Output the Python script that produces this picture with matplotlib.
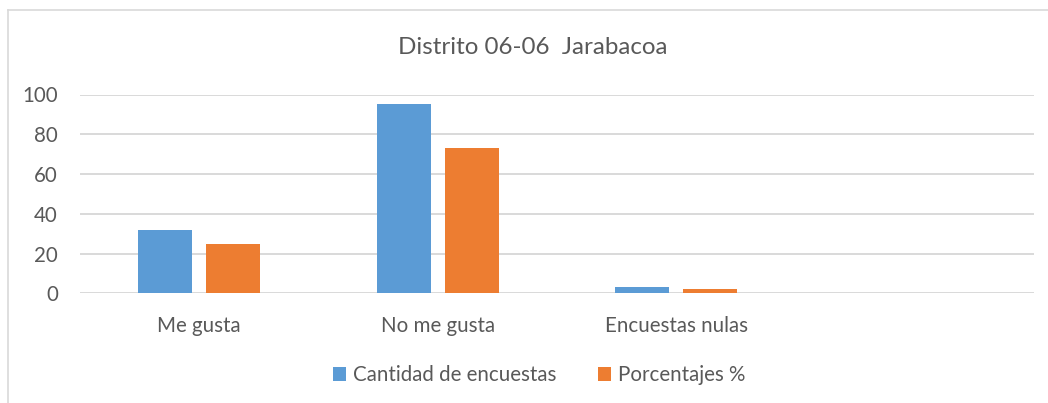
import matplotlib
matplotlib.use("Agg")
import matplotlib.pyplot as plt  # noqa: E402
import numpy as np  # noqa: E402
from matplotlib.lines import Line2D  # noqa: E402

categories = ["Me gusta", "No me gusta", "Encuestas nulas"]
cantidad = [32, 95, 3]
porcentajes = [24.6, 73.1, 2.3]
series_names = ["Cantidad de encuestas", "Porcentajes %"]
yticks = [0, 20, 40, 60, 80, 100]
title = "Distrito 06-06  Jarabacoa"
n_slots = 4  # Excel left an empty fourth category slot

BLUE = "#5B9BD5"
ORANGE = "#ED7D31"
TEXT = "#595959"
GRID = "#D9D9D9"

plt.rcParams["font.family"] = ["Lato", "DejaVu Sans"]

W, H = 1048, 403
fig = plt.figure(figsize=(W / 100, H / 100), dpi=100)
ax = fig.add_axes([80 / W, 1 - 293.3 / H, 954 / W, 198.8 / H])

x = np.arange(len(categories))
bw = 0.226
off = 0.1425
b1 = ax.bar(x - off, cantidad, bw, color=BLUE, label=series_names[0], zorder=3)
b2 = ax.bar(x + off, porcentajes, bw, color=ORANGE, label=series_names[1], zorder=3)

ax.set_xlim(-0.5, n_slots - 0.5)
ax.set_ylim(0, 100)
ax.set_yticks(yticks)
ax.set_xticks(x)
ax.set_xticklabels(categories)
ax.yaxis.grid(True, color=GRID, lw=1.4)
ax.set_axisbelow(True)
for s in ax.spines.values():
    s.set_visible(False)
ax.tick_params(axis="both", length=0, colors=TEXT, labelsize=14.8)
ax.tick_params(axis="y", pad=16)
ax.tick_params(axis="x", pad=16)

fig.text(533 / W, 1 - 48 / H, title, ha="center", va="center",
         fontsize=17.4, color=TEXT)

leg = fig.legend(handles=[b1, b2], loc="center", ncol=2, frameon=False,
                 bbox_to_anchor=(539 / W, 1 - 375 / H), fontsize=14.8,
                 handlelength=0.65, handleheight=0.65, handletextpad=0.35,
                 columnspacing=2.0)
for t in leg.get_texts():
    t.set_color(TEXT)

# chart frame (only top and left edges show in the crop)
fig.add_artist(Line2D([8 / W, 1], [1 - 10 / H] * 2, color=GRID, lw=1.2))
fig.add_artist(Line2D([8 / W] * 2, [0, 1 - 10 / H], color=GRID, lw=1.2))

fig.savefig("out.png", dpi=100)
plt.close(fig)
